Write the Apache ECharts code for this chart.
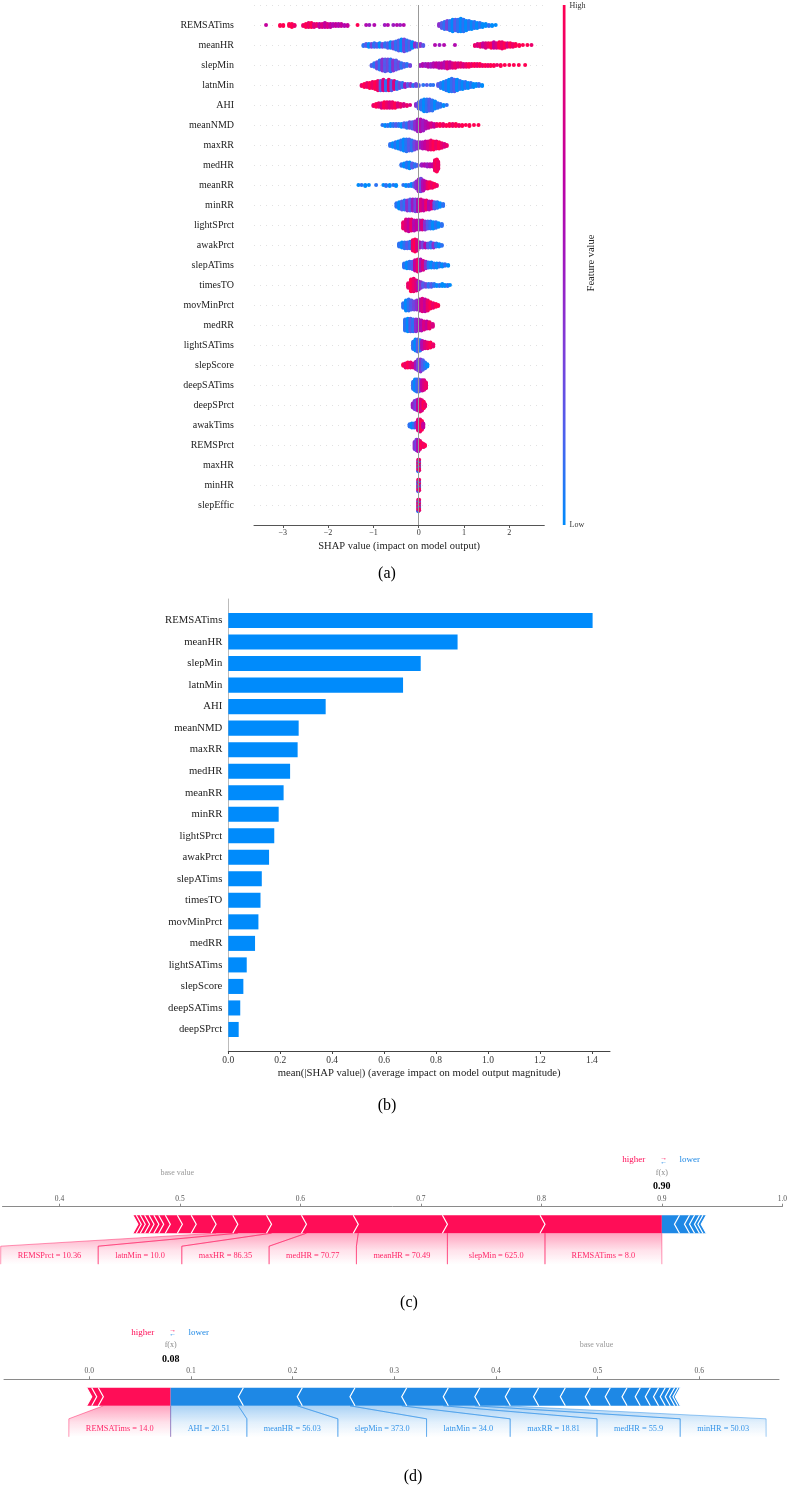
<!DOCTYPE html>
<html><head><meta charset="utf-8">
<script src="https://cdn.jsdelivr.net/npm/echarts@6/dist/echarts.min.js"></script>
<style>html,body{margin:0;padding:0;background:#fff}#c{width:790px;height:1491px}</style>
</head><body><div id="c"></div>
<script>
// ---------- (a) beeswarm data: [shap value, number of samples, feature value 0..10] ----------
const features = ['REMSATims','meanHR','slepMin','latnMin','AHI','meanNMD','maxRR','medHR','meanRR','minRR','lightSPrct','awakPrct','slepATims','timesTO','movMinPrct','medRR','lightSATims','slepScore','deepSATims','deepSPrct','awakTims','REMSPrct','maxHR','minHR','slepEffic'];
const sREMSATims = [[-3.37,1,7],[-3.06,2,10],[-2.99,2,10],[-2.86,3,10],[-2.80,4,10],[-2.74,2,9],[-2.55,2,9],[-2.49,4,10],[-2.43,5,9],[-2.37,5,10],[-2.31,4,8],[-2.25,3,9],[-2.19,4,7],[-2.13,4,8],[-2.07,5,7],[-2.01,4,8],[-1.95,4,7],[-1.89,3,6],[-1.83,3,7],[-1.77,3,6],[-1.71,3,7],[-1.64,2,6],[-1.57,2,7],[-1.35,1,10],[-1.16,1,6],[-1.09,1,5],[-0.98,1,6],[-0.75,1,5],[-0.68,1,6],[-0.56,1,5],[-0.48,1,6],[-0.41,1,5],[-0.33,1,6],[0.45,3,4],[0.51,6,2],[0.57,8,1],[0.63,9,3],[0.69,10,1],[0.75,12,0],[0.81,11,2],[0.87,12,1],[0.93,13,0],[0.99,12,1],[1.05,10,0],[1.11,9,1],[1.17,8,0],[1.23,7,1],[1.29,6,0],[1.35,5,1],[1.41,4,0],[1.48,3,0],[1.55,2,1],[1.62,2,0],[1.70,1,0]];
const smeanHR = [[-1.22,2,1],[-1.16,3,2],[-1.10,4,0],[-1.04,4,3],[-0.98,5,1],[-0.92,4,2],[-0.86,5,0],[-0.80,4,3],[-0.74,5,1],[-0.68,6,2],[-0.62,7,0],[-0.56,8,3],[-0.50,10,1],[-0.44,12,2],[-0.38,13,0],[-0.32,14,3],[-0.26,12,1],[-0.20,10,2],[-0.14,7,0],[-0.08,5,4],[-0.02,4,2],[0.04,3,4],[0.10,2,2],[0.36,1,6],[0.46,1,5],[0.56,1,6],[0.80,1,6],[1.24,2,9],[1.30,3,8],[1.36,4,9],[1.42,5,7],[1.48,6,8],[1.54,5,9],[1.60,6,10],[1.66,7,7],[1.72,6,8],[1.78,7,10],[1.84,8,9],[1.90,6,10],[1.96,5,8],[2.02,5,10],[2.08,4,9],[2.14,3,10],[2.22,2,10],[2.30,1,10],[2.40,1,10],[2.49,1,9]];
const sslepMin = [[-1.04,2,2],[-0.98,5,1],[-0.92,8,3],[-0.86,11,1],[-0.80,13,4],[-0.74,14,2],[-0.68,13,3],[-0.62,14,1],[-0.56,12,4],[-0.50,11,2],[-0.44,8,3],[-0.38,6,1],[-0.32,4,2],[-0.26,3,1],[-0.19,2,3],[0.03,2,5],[0.09,3,6],[0.15,3,5],[0.21,4,6],[0.27,4,5],[0.33,5,6],[0.39,5,7],[0.45,6,6],[0.51,6,7],[0.57,7,6],[0.63,8,8],[0.69,7,7],[0.75,6,8],[0.81,6,9],[0.87,5,8],[0.93,5,9],[0.99,4,8],[1.05,4,9],[1.11,4,10],[1.17,3,9],[1.23,3,10],[1.29,3,9],[1.35,3,10],[1.41,2,9],[1.47,2,10],[1.53,2,9],[1.59,2,10],[1.66,2,10],[1.73,1,9],[1.81,2,10],[1.90,1,10],[2.00,1,10],[2.10,1,10],[2.21,1,10],[2.35,1,10]];
const slatnMin = [[-1.26,2,9],[-1.20,4,10],[-1.14,5,9],[-1.08,6,10],[-1.02,7,9],[-0.96,8,10],[-0.90,10,9],[-0.84,10,2],[-0.78,11,8],[-0.72,10,1],[-0.66,11,9],[-0.60,10,2],[-0.54,9,8],[-0.48,8,1],[-0.42,6,3],[-0.36,5,1],[-0.30,4,5],[-0.24,3,2],[-0.18,3,4],[-0.12,2,1],[-0.06,3,3],[0.00,2,2],[0.10,1,1],[0.18,1,2],[0.26,1,1],[0.32,1,1],[0.43,3,2],[0.49,6,1],[0.55,8,0],[0.61,10,1],[0.67,12,0],[0.73,13,1],[0.79,12,2],[0.85,11,0],[0.91,9,1],[0.97,8,0],[1.03,7,1],[1.09,6,0],[1.15,5,1],[1.21,4,0],[1.27,3,0],[1.33,3,1],[1.40,2,0]];
const sAHI = [[-1.00,2,9],[-0.94,4,10],[-0.88,5,9],[-0.82,6,8],[-0.76,7,10],[-0.70,7,9],[-0.64,7,8],[-0.58,7,9],[-0.52,6,10],[-0.46,5,8],[-0.40,4,9],[-0.33,3,8],[-0.26,2,9],[-0.19,1,8],[-0.06,3,4],[0.00,8,2],[0.06,11,1],[0.12,14,0],[0.18,14,1],[0.24,13,2],[0.30,12,1],[0.36,9,0],[0.42,6,1],[0.48,4,1],[0.55,2,0],[0.62,1,1]];
const smeanNMD = [[-0.80,1,1],[-0.74,2,0],[-0.68,2,1],[-0.62,3,0],[-0.56,3,1],[-0.50,3,2],[-0.44,3,1],[-0.38,4,0],[-0.32,5,2],[-0.26,6,1],[-0.20,7,3],[-0.14,8,2],[-0.08,10,4],[-0.02,14,5],[0.04,14,6],[0.10,12,5],[0.16,9,6],[0.22,6,7],[0.28,5,8],[0.34,4,7],[0.40,3,9],[0.47,3,10],[0.54,3,9],[0.61,2,10],[0.68,3,10],[0.75,3,9],[0.82,3,10],[0.89,2,9],[0.96,2,10],[1.04,1,10],[1.12,2,10],[1.22,1,10],[1.32,1,10]];
const smaxRR = [[-0.63,3,1],[-0.57,5,0],[-0.51,7,1],[-0.45,9,0],[-0.39,11,1],[-0.33,13,0],[-0.27,14,1],[-0.21,13,2],[-0.15,12,1],[-0.09,10,3],[-0.03,8,4],[0.03,7,5],[0.09,8,6],[0.15,9,7],[0.21,10,8],[0.27,11,9],[0.33,10,10],[0.39,9,9],[0.45,8,10],[0.51,6,9],[0.57,4,8],[0.62,2,9]];
const smedHR = [[-0.38,3,1],[-0.32,5,0],[-0.26,7,1],[-0.20,8,0],[-0.14,6,2],[-0.08,4,1],[-0.02,2,2],[0.07,3,5],[0.13,3,6],[0.19,4,5],[0.25,4,6],[0.31,4,7],[0.36,14,9],[0.40,16,10],[0.43,10,9]];
const smeanRR = [[-1.33,1,0],[-1.26,1,1],[-1.18,2,0],[-1.10,1,0],[-0.94,1,1],[-0.78,1,0],[-0.72,2,1],[-0.64,2,0],[-0.56,1,1],[-0.50,2,0],[-0.34,1,1],[-0.28,2,0],[-0.22,2,1],[-0.16,3,0],[-0.10,5,2],[-0.05,9,4],[0.00,14,5],[0.05,15,3],[0.10,12,6],[0.15,9,7],[0.20,8,9],[0.25,7,10],[0.30,6,9],[0.35,4,10],[0.40,2,9]];
const sminRR = [[-0.49,5,1],[-0.43,8,0],[-0.37,10,2],[-0.31,11,1],[-0.25,12,4],[-0.19,13,2],[-0.13,13,5],[-0.07,14,3],[-0.01,14,6],[0.05,13,8],[0.11,12,7],[0.17,11,9],[0.23,10,6],[0.29,9,8],[0.35,8,2],[0.41,7,1],[0.47,5,0],[0.54,3,1]];
const slightSPrct = [[-0.34,8,9],[-0.28,13,8],[-0.22,14,7],[-0.16,13,9],[-0.10,12,6],[-0.04,11,7],[0.02,11,5],[0.08,11,8],[0.14,10,4],[0.20,9,2],[0.26,9,1],[0.32,8,0],[0.38,7,1],[0.44,5,0],[0.51,3,1]];
const sawakPrct = [[-0.43,5,1],[-0.37,7,0],[-0.31,8,1],[-0.25,8,2],[-0.19,9,1],[-0.13,14,9],[-0.08,16,10],[-0.03,14,8],[0.03,7,5],[0.09,7,3],[0.15,6,6],[0.21,6,2],[0.27,7,1],[0.33,6,4],[0.39,5,1],[0.45,4,0],[0.51,2,1]];
const sslepATims = [[-0.32,6,1],[-0.26,8,0],[-0.20,9,1],[-0.14,10,2],[-0.08,14,7],[-0.02,16,9],[0.04,15,6],[0.10,12,8],[0.16,9,4],[0.22,7,1],[0.28,7,0],[0.34,6,1],[0.40,6,0],[0.46,5,1],[0.52,4,0],[0.58,3,1],[0.65,2,0]];
const stimesTO = [[-0.23,6,9],[-0.17,14,10],[-0.11,15,9],[-0.05,12,8],[0.00,10,5],[0.05,7,4],[0.10,5,2],[0.16,4,3],[0.22,4,1],[0.28,4,2],[0.34,3,1],[0.40,2,0],[0.46,2,1],[0.52,3,0],[0.58,2,0],[0.64,2,1],[0.69,1,0]];
const smovMinPrct = [[-0.34,6,1],[-0.28,12,0],[-0.22,13,1],[-0.16,11,2],[-0.10,10,3],[-0.04,11,4],[0.02,13,6],[0.08,15,8],[0.14,14,7],[0.20,12,9],[0.26,8,10],[0.32,6,9],[0.38,4,10],[0.43,2,10]];
const smedRR = [[-0.30,13,1],[-0.24,15,0],[-0.18,15,2],[-0.12,14,1],[-0.06,14,4],[0.00,13,5],[0.06,12,6],[0.12,10,8],[0.18,9,7],[0.24,8,9],[0.31,4,8]];
const slightSATims = [[-0.12,10,1],[-0.07,15,0],[-0.02,16,2],[0.03,14,1],[0.08,11,6],[0.14,9,8],[0.20,8,9],[0.26,7,10],[0.32,4,9]];
const sslepScore = [[-0.34,3,10],[-0.29,6,9],[-0.24,7,10],[-0.18,7,9],[-0.12,6,8],[-0.06,10,5],[-0.01,15,3],[0.04,16,4],[0.09,13,2],[0.14,8,1],[0.19,4,0]];
const sdeepSATims = [[-0.12,10,1],[-0.08,15,0],[-0.04,16,1],[0.00,16,2],[0.04,14,3],[0.08,14,7],[0.12,13,8],[0.16,8,9]];
const sdeepSPrct = [[-0.13,6,5],[-0.09,11,4],[-0.05,13,3],[-0.01,15,7],[0.03,16,9],[0.07,14,8],[0.11,9,10],[0.14,4,9]];
const sawakTims = [[-0.20,4,1],[-0.15,6,0],[-0.10,6,1],[-0.05,7,4],[-0.01,15,8],[0.03,16,9],[0.07,12,10],[0.10,6,7]];
const sREMSPrct = [[-0.09,8,4],[-0.05,11,3],[-0.01,12,6],[0.03,9,9],[0.07,5,10],[0.11,4,9],[0.14,2,10]];
const smaxHR = [[-0.01,2,10],[-0.01,1,1],[-0.01,2,9],[-0.01,1,0],[-0.01,2,10],[-0.01,1,2],[-0.01,2,9],[-0.01,1,1],[0.01,2,10],[0.01,1,0],[0.01,2,9],[0.01,1,1],[0.01,2,10],[0.01,1,1],[0.01,2,9]];
const sminHR = [[-0.01,2,9],[-0.01,1,1],[-0.01,1,10],[-0.01,2,0],[-0.01,2,9],[-0.01,1,1],[-0.01,2,10],[-0.01,1,2],[0.01,1,10],[0.01,2,1],[0.01,2,9],[0.01,1,0],[0.01,2,10],[0.01,1,1],[0.01,2,9]];
const sslepEffic = [[-0.01,2,10],[-0.01,1,2],[-0.01,2,9],[-0.01,1,1],[-0.01,2,10],[-0.01,1,0],[-0.01,2,9],[-0.01,1,1],[0.01,2,10],[0.01,1,1],[0.01,2,9],[0.01,1,0],[0.01,2,10],[0.01,1,2],[0.01,2,9]];
const swarmRows = [sREMSATims,smeanHR,sslepMin,slatnMin,sAHI,smeanNMD,smaxRR,smedHR,smeanRR,sminRR,slightSPrct,sawakPrct,sslepATims,stimesTO,smovMinPrct,smedRR,slightSATims,sslepScore,sdeepSATims,sdeepSPrct,sawakTims,sREMSPrct,smaxHR,sminHR,sslepEffic];
const swarmTicks = [-3,-2,-1,0,1,2];

// ---------- (b) mean |SHAP| ----------
const barFeatures = ['REMSATims','meanHR','slepMin','latnMin','AHI','meanNMD','maxRR','medHR','meanRR','minRR','lightSPrct','awakPrct','slepATims','timesTO','movMinPrct','medRR','lightSATims','slepScore','deepSATims','deepSPrct'];
const barValues = [1.403,0.883,0.741,0.673,0.375,0.271,0.267,0.238,0.213,0.194,0.177,0.157,0.129,0.124,0.116,0.103,0.071,0.058,0.046,0.040];
const barTicks = [0,0.2,0.4,0.6,0.8,1.0,1.2,1.4];

// ---------- (c) force plot ----------
const cFx = 0.90;
const cPos = [0.097,0.081,0.074,0.043,0.029,0.028,0.018,0.0165,0.0115,0.010,0.0055,0.004,0.004,0.0037,0.0036,0.0033,0.0028];
const cPosLabels = ['REMSATims = 8.0','slepMin = 625.0','meanHR = 70.49','medHR = 70.77','maxHR = 86.35','latnMin = 10.0','REMSPrct = 10.36'];
const cNeg = [0.0105,0.0083,0.0042,0.0041,0.0028,0.0028];
const cNegLabels = [];
const cTicks = [0.4,0.5,0.6,0.7,0.8,0.9,1.0];

// ---------- (d) force plot ----------
const dFx = 0.08;
const dPos = [0.0662,0.0065,0.0049];
const dPosLabels = ['REMSATims = 14.0'];
const dNeg = [0.0666,0.0580,0.0518,0.0509,0.0409,0.031,0.030,0.0278,0.0263,0.0246,0.0196,0.0165,0.0130,0.0099,0.0081,0.0066,0.0049,0.0043,0.0033,0.0023];
const dNegLabels = ['AHI = 20.51','meanHR = 56.03','slepMin = 373.0','latnMin = 34.0','maxRR = 18.81','medHR = 55.9','minHR = 50.03'];
const dTicks = [0.0,0.1,0.2,0.3,0.4,0.5,0.6];

// ---------- styles ----------
const SERIF = '"Liberation Serif", "Times New Roman", serif';
const RB = ['#008bfb','#4a62ee','#7c3fd9','#9e19c0','#bd00a4','#e0007a','#ff0052'];
const PINK = '#ff0d57', BLUE = '#1e88e5';

// beeswarm layout (shap-style stacking)
const swarmPoints = [];
swarmRows.forEach((row, r) => {
  const cols = new Map();
  row.forEach(([x, n, c]) => {
    const key = x.toFixed(3);
    if (!cols.has(key)) cols.set(key, []);
    const arr = cols.get(key);
    for (let k = 0; k < n; k++) arr.push([x, c]);
  });
  let maxOff = 0; const tmp = [];
  cols.forEach(arr => arr.forEach((p, L) => {
    const off = Math.ceil(L / 2) * ((L % 2) * 2 - 1);
    maxOff = Math.max(maxOff, Math.abs(off));
    tmp.push([p[0], off, p[1]]);
  }));
  const s = 0.9 * 0.4 / (maxOff + 1);
  tmp.forEach(t => swarmPoints.push([t[0], r + t[1] * s, t[2]]));
});

// text measuring
const mctx = document.createElement('canvas').getContext('2d');
function textW(s, size) { mctx.font = size + 'px ' + SERIF; return mctx.measureText(s).width; }
const sum = a => a.reduce((p, v) => p + v, 0);

const BAR_TOP = 8.5, BAR_BOT = 26.5, CELL_TOP = 39.5, CELL_BOT = 57.5, TXT_Y = 49.5, CHEV = 5, LFS = 8.3, PAD = 34;

function segData(fx, pos, neg) {
  const out = []; let cum = 0;
  pos.forEach((e, i) => { out.push([fx - cum - e, fx - cum, 1, i === 0 ? 1 : 0]); cum += e; });
  cum = 0;
  neg.forEach((e, i) => { out.push([fx + cum, fx + cum + e, -1, i === 0 ? 1 : 0]); cum += e; });
  return out;
}
function segRender(params, api) {
  const a = api.coord([api.value(0), 0])[0];
  const b = api.coord([api.value(1), 0])[0];
  const sign = api.value(2), first = api.value(3);
  const top = params.coordSys.y + BAR_TOP, bot = params.coordSys.y + BAR_BOT, mid = (top + bot) / 2, d = CHEV;
  let pts, sep, color;
  if (sign > 0) {
    color = PINK;
    pts = first ? [[a-d,top],[b,top],[b,bot],[a-d,bot],[a,mid]] : [[a-d,top],[b-d,top],[b,mid],[b-d,bot],[a-d,bot],[a,mid]];
    sep = [[a-d,top],[a,mid],[a-d,bot]];
  } else {
    color = BLUE;
    pts = first ? [[a,top],[b+d,top],[b,mid],[b+d,bot],[a,bot]] : [[a+d,top],[b+d,top],[b,mid],[b+d,bot],[a+d,bot],[a,mid]];
    sep = [[b+d,top],[b,mid],[b+d,bot]];
  }
  return {type:'group', children:[
    {type:'polygon', shape:{points:pts}, style:{fill:color}},
    {type:'polyline', z2:10, shape:{points:sep}, style:{stroke:'#fff', lineWidth:1.2, fill:null}}
  ]};
}
function rgba(hex, a) {
  const n = parseInt(hex.slice(1), 16);
  return 'rgba(' + (n >> 16) + ',' + ((n >> 8) & 255) + ',' + (n & 255) + ',' + a + ')';
}
function makeLabelRender(fx, pos, posLabels, neg, negLabels) {
  return function (params, api) {
    const y0 = params.coordSys.y;
    const px = v => api.coord([v, 0])[0];
    const barBot = y0 + BAR_BOT, cTop = y0 + CELL_TOP, cBot = y0 + CELL_BOT, tY = y0 + TXT_Y;
    const ch = [];
    function cell(segL, segR, cellL, cellR, col, label) {
      ch.push({type:'polygon', shape:{points:[[segL,barBot],[segR,barBot],[cellR,cTop],[cellR,cBot],[cellL,cBot],[cellL,cTop]]},
        style:{fill:{type:'linear',x:0,y:0,x2:0,y2:1,colorStops:[{offset:0,color:rgba(col,0.38)},{offset:0.55,color:rgba(col,0.12)},{offset:1,color:rgba(col,0)}]}}});
      ch.push({type:'polyline', shape:{points:[[segL,barBot],[cellL,cTop],[cellL,cBot]]}, style:{stroke:rgba(col,0.55), lineWidth:0.8, fill:null}});
      ch.push({type:'polyline', shape:{points:[[segR,barBot],[cellR,cTop],[cellR,cBot]]}, style:{stroke:rgba(col,0.55), lineWidth:0.8, fill:null}});
      ch.push({type:'text', x:(cellL+cellR)/2, y:tY, z2:5, style:{text:label, fill:col, opacity:0.9, fontSize:LFS, fontFamily:SERIF, align:'center', verticalAlign:'middle'}});
    }
    let cum = 0, prev = px(fx);
    posLabels.forEach((lab, i) => {
      const segR = px(fx - cum); cum += pos[i]; const segL = px(fx - cum);
      const cellR = Math.min(segR, prev);
      const cellL = Math.min(segL, cellR - (textW(lab, LFS) + PAD));
      cell(segL, segR, cellL, cellR, PINK, lab); prev = cellL;
    });
    cum = 0; prev = px(fx);
    negLabels.forEach((lab, i) => {
      const segL = px(fx + cum); cum += neg[i]; const segR = px(fx + cum);
      const cellL = Math.max(segL, prev);
      const cellR = Math.max(segR, cellL + (textW(lab, LFS) + PAD));
      cell(segL, segR, cellL, cellR, BLUE, lab); prev = cellR;
    });
    const fxp = px(fx), base = fx - sum(pos) + sum(neg), bp = px(base);
    const T = (x, y, text, fill, size, extra) => ch.push({type:'text', x, y, style:Object.assign({text, fill, fontSize:size, fontFamily:SERIF, align:'center', verticalAlign:'middle'}, extra || {})});
    T(fxp - 28, y0 - 47, 'higher', PINK, 9);
    T(fxp + 2, y0 - 49, '\u2192', PINK, 7);
    T(fxp + 2, y0 - 45, '\u2190', BLUE, 7);
    T(fxp + 28, y0 - 47, 'lower', BLUE, 9);
    T(fxp, y0 - 34, 'f(x)', '#888', 8);
    T(fxp, y0 - 20, fx.toFixed(2), '#000', 10, {fontWeight:'bold'});
    T(bp, y0 - 34, 'base value', '#999', 8);
    return {type:'group', children:ch};
  };
}

const forceAxis = (grid, min, max, ticks) => ({
  gridIndex:grid, type:'value', position:'top', min, max,
  axisLine:{onZero:false, lineStyle:{color:'#8a8a8a', width:1}},
  axisTick:{customValues:ticks, length:3, lineStyle:{color:'#8a8a8a'}},
  axisLabel:{customValues:ticks, fontSize:7.5, color:'#555', margin:4, fontFamily:SERIF, formatter:v => v.toFixed(1)},
  splitLine:{show:false}
});

const chart = echarts.init(document.getElementById('c'), null, {renderer:'canvas'});
chart.setOption({
  animation:false,
  textStyle:{fontFamily:SERIF},
  grid:[
    {left:254, width:290.3, top:5, height:520},
    {left:228.3, width:381.7, top:599, height:452},
    {left:2.5, width:781.1, top:1206.7, height:60},
    {left:4, width:775, top:1379.3, height:60}
  ],
  xAxis:[
    {gridIndex:0, type:'value', min:-3.636, max:2.773,
     axisLine:{onZero:false, lineStyle:{color:'#555'}},
     axisTick:{customValues:swarmTicks, length:3, lineStyle:{color:'#555'}},
     axisLabel:{customValues:swarmTicks, fontSize:8, color:'#333', margin:4, formatter:v => (v < 0 ? '\u2212' + (-v) : String(v))},
     splitLine:{show:false},
     name:'SHAP value (impact on model output)', nameLocation:'middle', nameGap:16,
     nameTextStyle:{fontSize:10.5, color:'#222', fontFamily:SERIF}},
    {gridIndex:1, type:'value', min:0, max:1.47,
     axisLine:{onZero:false, lineStyle:{color:'#444'}},
     axisTick:{customValues:barTicks, length:3, lineStyle:{color:'#444'}},
     axisLabel:{customValues:barTicks, fontSize:9.5, color:'#333', margin:4, formatter:v => v.toFixed(1)},
     splitLine:{show:false},
     name:'mean(|SHAP value|) (average impact on model output magnitude)', nameLocation:'middle', nameGap:17,
     nameTextStyle:{fontSize:10.7, color:'#222', fontFamily:SERIF}},
    forceAxis(2, 0.3527, 1.0, cTicks),
    forceAxis(3, -0.0839, 0.6784, dTicks)
  ],
  yAxis:[
    {gridIndex:0, type:'value', min:-1, max:25, interval:1, inverse:true,
     axisLine:{show:false, onZero:false}, axisTick:{show:false},
     axisLabel:{margin:20, fontSize:10, color:'#222', formatter:v => features[v] || ''},
     splitLine:{show:true, lineStyle:{color:'#cccccc', width:0.6, type:[1,5]}}},
    {gridIndex:1, type:'value', min:-1, max:20, interval:1, inverse:true,
     axisLine:{show:true, onZero:false, lineStyle:{color:'#bbbbbb'}}, axisTick:{show:false},
     axisLabel:{margin:6, fontSize:10.7, color:'#222', formatter:v => barFeatures[v] || ''},
     splitLine:{show:false}},
    {gridIndex:2, type:'value', min:0, max:1, show:false},
    {gridIndex:3, type:'value', min:0, max:1, show:false}
  ],
  visualMap:{show:false, type:'continuous', seriesIndex:0, dimension:2, min:0, max:10, inRange:{color:RB}},
  graphic:[
    {type:'rect', shape:{x:562.8, y:5, width:2.7, height:520},
     style:{fill:new echarts.graphic.LinearGradient(0,0,0,1, RB.slice().reverse().map((c,i,a)=>({offset:i/(a.length-1), color:c})))}},
    {type:'text', x:569.5, y:6, style:{text:'High', fontSize:8, fill:'#333', fontFamily:SERIF, align:'left', verticalAlign:'middle'}},
    {type:'text', x:569.5, y:525, style:{text:'Low', fontSize:8, fill:'#333', fontFamily:SERIF, align:'left', verticalAlign:'middle'}},
    {type:'text', x:591, y:263, rotation:Math.PI/2, style:{text:'Feature value', fontSize:10.5, fill:'#222', fontFamily:SERIF, align:'center', verticalAlign:'middle'}},
    {type:'text', x:387, y:574, style:{text:'(a)', fontSize:16, fill:'#000', fontFamily:SERIF, align:'center', verticalAlign:'middle'}},
    {type:'text', x:387, y:1106, style:{text:'(b)', fontSize:16, fill:'#000', fontFamily:SERIF, align:'center', verticalAlign:'middle'}},
    {type:'text', x:409, y:1303, style:{text:'(c)', fontSize:16, fill:'#000', fontFamily:SERIF, align:'center', verticalAlign:'middle'}},
    {type:'text', x:413, y:1477, style:{text:'(d)', fontSize:16, fill:'#000', fontFamily:SERIF, align:'center', verticalAlign:'middle'}}
  ],
  series:[
    {type:'scatter', xAxisIndex:0, yAxisIndex:0, symbolSize:4, progressive:0, data:swarmPoints,
     itemStyle:{opacity:1},
     markLine:{silent:true, symbol:'none', label:{show:false}, lineStyle:{color:'#999', width:1, type:'solid'}, data:[{xAxis:0}]}},
    {type:'custom', xAxisIndex:1, yAxisIndex:1, data:barValues.map((v,i)=>[v,i]),
     renderItem:(params, api) => {
       const p0 = api.coord([0, api.value(1)]), p1 = api.coord([api.value(0), api.value(1)]);
       const h = api.size([0, 0.7])[1];
       return {type:'rect', shape:{x:p0[0], y:p0[1]-h/2, width:p1[0]-p0[0], height:h}, style:{fill:'#008bfb'}};
     }},
    {type:'custom', xAxisIndex:2, yAxisIndex:2, data:segData(cFx, cPos, cNeg), renderItem:segRender},
    {type:'custom', xAxisIndex:2, yAxisIndex:2, data:[[cFx, 0]], renderItem:makeLabelRender(cFx, cPos, cPosLabels, cNeg, cNegLabels)},
    {type:'custom', xAxisIndex:3, yAxisIndex:3, data:segData(dFx, dPos, dNeg), renderItem:segRender},
    {type:'custom', xAxisIndex:3, yAxisIndex:3, data:[[dFx, 0]], renderItem:makeLabelRender(dFx, dPos, dPosLabels, dNeg, dNegLabels)}
  ]
});
</script></body></html>
